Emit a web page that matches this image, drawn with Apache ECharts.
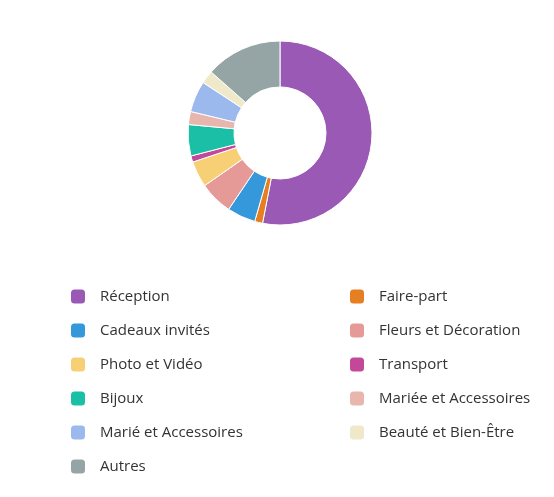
<!DOCTYPE html>
<html><head><meta charset="utf-8">
<script src="https://cdn.jsdelivr.net/npm/echarts@6/dist/echarts.min.js"></script>
<style>html,body{margin:0;padding:0;background:#fff}#c{width:554px;height:497px}</style>
</head><body><div id="c"></div>
<script>
var categories = ["Réception","Faire-part","Cadeaux invités","Fleurs et Décoration","Photo et Vidéo","Transport","Bijoux","Mariée et Accessoires","Marié et Accessoires","Beauté et Bien-Être","Autres"];
var values = [53.2, 1.4, 5.0, 5.9, 4.6, 1.1, 5.5, 2.3, 5.5, 2.3, 13.5];
var colors = ["#9b59b6","#e67e22","#3498db","#e59a98","#f7cf75","#c4489a","#1abfa5","#e9b6ae","#9cb9ee","#efe8c9","#95a5a6"];

var leftCol = categories.filter(function(c,i){return i%2===0;});
var rightCol = categories.filter(function(c,i){return i%2===1;});

var chart = echarts.init(document.getElementById('c'));
function legendAt(data, left){
  return {
    data: data, orient:'vertical', left:left, top:289, itemGap:19, padding:0,
    itemWidth:14, itemHeight:14, icon:'roundRect', selectedMode:false,
    itemStyle:{borderWidth:0},
    textStyle:{fontFamily:'Open Sans', fontSize:15, lineHeight:14, color:'#333333', padding:[0,0,0,10]}
  };
}
chart.setOption({
  animation:false,
  color: colors,
  legend: [legendAt(leftCol, 71), legendAt(rightCol, 350)],
  series:[{
    type:'pie', center:[280,133], radius:[46,92], startAngle:90, clockwise:true,
    label:{show:false}, labelLine:{show:false},
    itemStyle:{borderColor:'#fff', borderWidth:1},
    data: categories.map(function(c,i){return {name:c, value:values[i]};})
  }]
});
</script></body></html>
